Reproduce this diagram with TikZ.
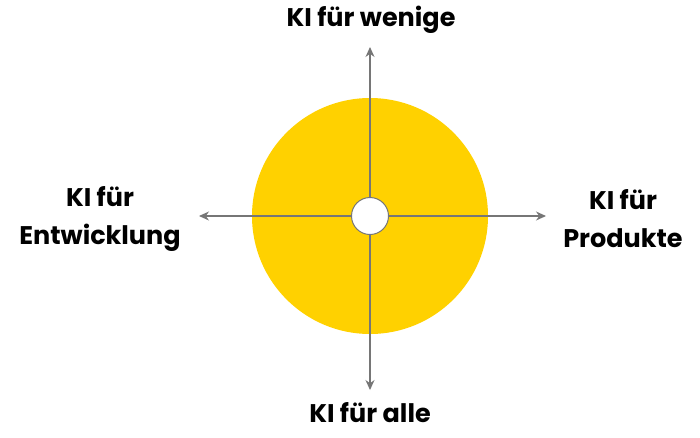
\documentclass[tikz,border=0pt]{standalone}
\usepackage{fontspec}
\setmainfont{Poppins}
\usetikzlibrary{arrows.meta,positioning}

\definecolor{kigold}{HTML}{FFD100}
\definecolor{kigray}{HTML}{767676}

\begin{document}
\begin{tikzpicture}[x=1pt, y=-1pt]
  \tikzset{
    label/.style = {font=\fontsize{25.5}{38}\selectfont\bfseries, align=center, text=black, inner sep=0pt},
    axis/.style = {draw=kigray, line width=1.1pt, -{Stealth[length=10pt, width=9pt]}},
    hub/.style = {circle, draw=kigray, line width=1pt, fill=white, minimum size=37pt, inner sep=0pt}
  }
  \useasboundingbox (0,0) rectangle (700,437);
  % Place nodes
  \fill [kigold] (370,216) circle (118);
  \node [label] (top) at (371,20) {KI für wenige};
  \node [label] (bottom) at (370,413) {KI für alle};
  \node [label] (left) at (100,219) {KI für\\Entwicklung};
  \node [label] (right) at (623,219) {KI für\\Produkte};
  \coordinate (top-end) at (370,47);
  \coordinate (bottom-end) at (370,390);
  \coordinate (left-end) at (199,216);
  \coordinate (right-end) at (546,216);
  \node [hub] (hub) at (370,216) {};

  \path [axis] (hub) -- (top-end);
  \path [axis] (hub) -- (bottom-end);
  \path [axis] (hub) -- (left-end);
  \path [axis] (hub) -- (right-end);
\end{tikzpicture}
\end{document}
